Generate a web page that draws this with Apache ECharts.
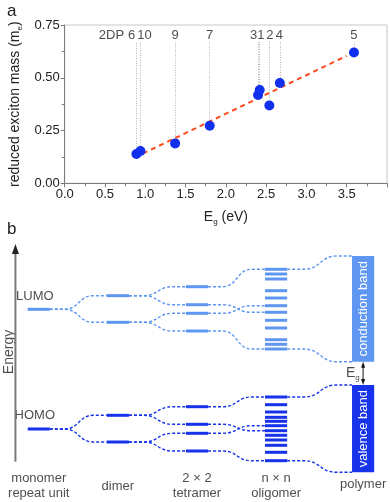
<!DOCTYPE html>
<html>
<head>
<meta charset="utf-8">
<script src="https://cdn.jsdelivr.net/npm/echarts@6/dist/echarts.min.js"></script>
<style>
  html, body { margin: 0; padding: 0; background: #fff; }
  #chart { width: 390px; height: 502px; }
</style>
</head>
<body>
<div id="chart"></div>
<script>
// ---- panel a: reduced exciton mass vs band gap ----
var bandGap = [0.89, 0.94, 1.37, 1.80, 2.40, 2.42, 2.54, 2.67, 3.59];
var excitonMass = [0.139, 0.153, 0.189, 0.273, 0.418, 0.442, 0.369, 0.475, 0.620];
var tagNames = ['2DP', '6', '10', '9', '7', '31', '2', '4', '5'];
var tagX = [0.58, 0.83, 0.99, 1.37, 1.80, 2.39, 2.545, 2.665, 3.59];
var fitEnds = [[0.97, 0.141], [3.50, 0.604]];
var egTicks = ['0.0', '0.5', '1.0', '1.5', '2.0', '2.5', '3.0', '3.5'];
var massTicks = ['0.00', '0.25', '0.50', '0.75'];

// ---- panel b: energy level diagram ----
var stageNames = ['monomer\nrepeat unit', 'dimer', '2 × 2\ntetramer', 'n × n\noligomer', 'polymer'];
var stageX = [0, 1, 2, 3, 4.1];
var lumoLevels = [
  [16.27],
  [17.63, 14.97],
  [18.53, 16.73, 15.87, 14.1],
  [20.27, 19.8, 19.3, 18.13, 17.4, 16.63, 15.97, 15.17, 14.4, 13.23, 12.77, 12.3]
];
var homoLevels = [
  [4.3],
  [5.67, 3.0],
  [6.53, 4.77, 3.87, 2.1],
  [7.5, 6.73, 6.0, 5.47, 5.07, 4.63, 4.13, 3.67, 3.2, 2.67, 1.97, 1.13]
];
var bandNames = ['conduction band', 'valence band'];
var conductionBand = [11.03, 21.6];
var valenceBand = [-0.03, 8.7];
// [from stage, from energy, to stage, to energy]
var lumoLinks = [
  [0, 16.27, 1, 17.63], [0, 16.27, 1, 14.97],
  [1, 17.63, 2, 18.53], [1, 17.63, 2, 16.73],
  [1, 14.97, 2, 15.87], [1, 14.97, 2, 14.1],
  [2, 18.53, 3, 20.27], [2, 16.73, 3, 15.97],
  [2, 15.87, 3, 16.63], [2, 14.1, 3, 12.3],
  [3, 20.27, 4, 21.6], [3, 12.3, 4, 11.03]
];
var homoLinks = [
  [0, 4.3, 1, 5.67], [0, 4.3, 1, 3.0],
  [1, 5.67, 2, 6.53], [1, 5.67, 2, 4.77],
  [1, 3.0, 2, 3.87], [1, 3.0, 2, 2.1],
  [2, 6.53, 3, 7.5], [2, 4.77, 3, 4.13],
  [2, 3.87, 3, 4.63], [2, 2.1, 3, 1.13],
  [3, 7.5, 4, 8.7], [3, 1.13, 4, -0.03]
];

var FONT = 'Liberation Sans, Arial, sans-serif';
var LUMO_COLOR = '#5e96f1';
var HOMO_COLOR = '#1632ea';
var HALF = 0.14;

var chart = echarts.init(document.getElementById('chart'));

function levelData(levels) {
  var out = [];
  levels.forEach(function (list, i) {
    list.forEach(function (e) { out.push([stageX[i], e]); });
  });
  return out;
}

function renderLevel(color) {
  return function (params, api) {
    var a = api.coord([api.value(0) - HALF, api.value(1)]);
    var b = api.coord([api.value(0) + HALF, api.value(1)]);
    return {
      type: 'line',
      shape: { x1: a[0], y1: a[1], x2: b[0], y2: b[1] },
      style: { stroke: color, lineWidth: 3 }
    };
  };
}

function renderLink(color) {
  return function (params, api) {
    var p0 = api.coord([stageX[api.value(0)] + HALF, api.value(1)]);
    var p1 = api.coord([stageX[api.value(2)] - HALF, api.value(3)]);
    var w = p1[0] - p0[0];
    var a = p0[0] + 0.26 * w, b = p0[0] + 0.76 * w, m = (a + b) / 2;
    var d = 'M' + p0[0] + ' ' + p0[1] + 'L' + a + ' ' + p0[1] +
      'C' + m + ' ' + p0[1] + ' ' + m + ' ' + p1[1] + ' ' + b + ' ' + p1[1] +
      'L' + p1[0] + ' ' + p1[1];
    return {
      type: 'path',
      shape: { pathData: d },
      style: { fill: 'none', stroke: color, lineWidth: 1.4, lineDash: [3, 2] }
    };
  };
}

var bandColors = [LUMO_COLOR, HOMO_COLOR];
function renderBand(params, api) {
  var x = api.value(0), lo = api.value(1), hi = api.value(2);
  var tl = api.coord([x - HALF, hi]);
  var br = api.coord([x + HALF, lo]);
  return {
    type: 'group',
    children: [
      {
        type: 'rect',
        shape: { x: tl[0], y: tl[1], width: br[0] - tl[0], height: br[1] - tl[1] },
        style: { fill: bandColors[params.dataIndex] }
      },
      {
        type: 'text',
        x: (tl[0] + br[0]) / 2,
        y: (tl[1] + br[1]) / 2,
        rotation: Math.PI / 2,
        style: {
          text: bandNames[params.dataIndex], fill: '#fff',
          font: '13px ' + FONT, align: 'center', verticalAlign: 'middle'
        }
      }
    ]
  };
}

var textStyle = { color: '#222', fontFamily: FONT, fontSize: 13 };
var subRich = {
  t: { fontSize: 14, color: '#222', fontFamily: FONT },
  s: { fontSize: 8, color: '#222', fontFamily: FONT, padding: [9, 0, 0, 0] }
};

var option = {
  animation: false,
  textStyle: { fontFamily: FONT },
  title: [
    { text: 'a', left: 2, top: -2, textStyle: { fontSize: 17, fontWeight: 'normal', color: '#222' } },
    { text: 'b', left: 2, top: 216, textStyle: { fontSize: 17, fontWeight: 'normal', color: '#222' } }
  ],
  grid: [
    { left: 55, right: 2, top: 25, height: 158.3, show: true, borderColor: '#c8c8c8', borderWidth: 1 },
    { left: 0, right: 0, top: 222, height: 280 }
  ],
  xAxis: [
    {
      gridIndex: 0, type: 'value', min: 0, max: 4, interval: 0.5,
      name: '{t|E}{s|g}{t| (eV)}', nameLocation: 'middle', nameGap: 25,
      nameTextStyle: { rich: subRich },
      axisLine: { lineStyle: { color: '#7c7c7c', width: 1 } },
      axisTick: { length: 4, lineStyle: { color: '#7c7c7c' } },
      minorTick: { show: true, splitNumber: 2, length: 3, lineStyle: { color: '#7c7c7c' } },
      splitLine: { show: false },
      axisLabel: Object.assign({ margin: 5, formatter: function (v) { return egTicks[Math.round(v / 0.5)] || ''; } }, textStyle)
    },
    { gridIndex: 1, type: 'value', min: -0.49, max: 4.44, show: false }
  ],
  yAxis: [
    {
      gridIndex: 0, type: 'value', min: 0, max: 0.75, interval: 0.25,
      name: '{t|reduced exciton mass (m}{s|e}{t|)}', nameLocation: 'middle', nameGap: 41, nameRotate: 90,
      nameTextStyle: { rich: subRich },
      axisLine: { show: true, lineStyle: { color: '#7c7c7c', width: 1 } },
      axisTick: { show: true, length: 4, lineStyle: { color: '#7c7c7c' } },
      minorTick: { show: true, splitNumber: 2, length: 3, lineStyle: { color: '#7c7c7c' } },
      splitLine: { show: false },
      axisLabel: Object.assign({ margin: 5, formatter: function (v) { return massTicks[Math.round(v / 0.25)] || ''; } }, textStyle)
    },
    { gridIndex: 1, type: 'value', min: -3, max: 25, show: false }
  ],
  series: [
    // ---------- panel a ----------
    {
      type: 'lines', coordinateSystem: 'cartesian2d', xAxisIndex: 0, yAxisIndex: 0,
      lineStyle: { type: [1, 1.5], color: '#b4b4b4', width: 1, opacity: 1 },
      data: bandGap.map(function (x, i) { return { coords: [[x, excitonMass[i]], [x, 0.67]] }; }),
      z: 1
    },
    {
      type: 'line', xAxisIndex: 0, yAxisIndex: 0, symbol: 'none',
      lineStyle: { color: '#ff4a1c', width: 2, type: [5, 4] },
      data: fitEnds, z: 2
    },
    {
      type: 'scatter', xAxisIndex: 0, yAxisIndex: 0, symbolSize: 10,
      itemStyle: { color: '#1030ee', opacity: 1 },
      data: bandGap.map(function (x, i) { return [x, excitonMass[i]]; }), z: 3
    },
    {
      type: 'scatter', xAxisIndex: 0, yAxisIndex: 0, symbolSize: 1,
      itemStyle: { color: 'rgba(0,0,0,0)' },
      label: Object.assign({
        show: true, position: 'inside',
        formatter: function (p) { return tagNames[p.dataIndex]; }
      }, textStyle),
      data: tagX.map(function (x) { return [x, 0.70]; })
    },
    // ---------- panel b ----------
    {
      type: 'custom', coordinateSystem: 'cartesian2d', xAxisIndex: 1, yAxisIndex: 1,
      renderItem: renderLink(LUMO_COLOR), data: lumoLinks, silent: true
    },
    {
      type: 'custom', coordinateSystem: 'cartesian2d', xAxisIndex: 1, yAxisIndex: 1,
      renderItem: renderLink(HOMO_COLOR), data: homoLinks, silent: true
    },
    {
      type: 'custom', coordinateSystem: 'cartesian2d', xAxisIndex: 1, yAxisIndex: 1,
      renderItem: renderLevel(LUMO_COLOR), data: levelData(lumoLevels), silent: true, z: 3
    },
    {
      type: 'custom', coordinateSystem: 'cartesian2d', xAxisIndex: 1, yAxisIndex: 1,
      renderItem: renderLevel(HOMO_COLOR), data: levelData(homoLevels), silent: true, z: 3
    },
    {
      type: 'custom', coordinateSystem: 'cartesian2d', xAxisIndex: 1, yAxisIndex: 1,
      renderItem: renderBand, silent: true, z: 3,
      data: [
        [stageX[4], conductionBand[0], conductionBand[1]],
        [stageX[4], valenceBand[0], valenceBand[1]]
      ]
    },
    // energy axis arrow
    {
      type: 'line', xAxisIndex: 1, yAxisIndex: 1,
      lineStyle: { color: '#7a7a7a', width: 2 }, itemStyle: { color: '#222' },
      data: [
        { value: [-0.295, 1.03], symbol: 'none' },
        { value: [-0.295, 22.3], symbol: 'triangle', symbolSize: [7, 10] }
      ]
    },
    // band gap arrow
    {
      type: 'line', xAxisIndex: 1, yAxisIndex: 1,
      lineStyle: { color: '#111', width: 1 }, itemStyle: { color: '#111' },
      symbol: 'triangle', symbolSize: [4, 6],
      data: [
        { value: [stageX[4], conductionBand[0] - 0.3] },
        { value: [stageX[4], valenceBand[1] + 0.3], symbolRotate: 180 }
      ], z: 4
    },
    // text labels of panel b
    {
      type: 'scatter', xAxisIndex: 1, yAxisIndex: 1, symbolSize: 1,
      itemStyle: { color: 'rgba(0,0,0,0)' },
      label: Object.assign({
        show: true, position: 'inside', lineHeight: 15,
        formatter: function (p) { return p.data.name; }
      }, textStyle),
      data: stageNames.map(function (s, i) {
        return { name: s, value: [stageX[i], i === 4 ? -1.25 : -1.4] };
      }).concat([
        { name: 'LUMO', value: [-0.05, 17.55] },
        { name: 'HOMO', value: [-0.05, 5.63] },
        { name: 'Energy', value: [-0.38, 12.0], label: { rotate: 90, fontSize: 14 } },
        { name: '{t|E}{s|g}', value: [3.97, 9.9], label: { rich: subRich } }
      ])
    }
  ]
};

chart.setOption(option);
</script>
</body>
</html>
